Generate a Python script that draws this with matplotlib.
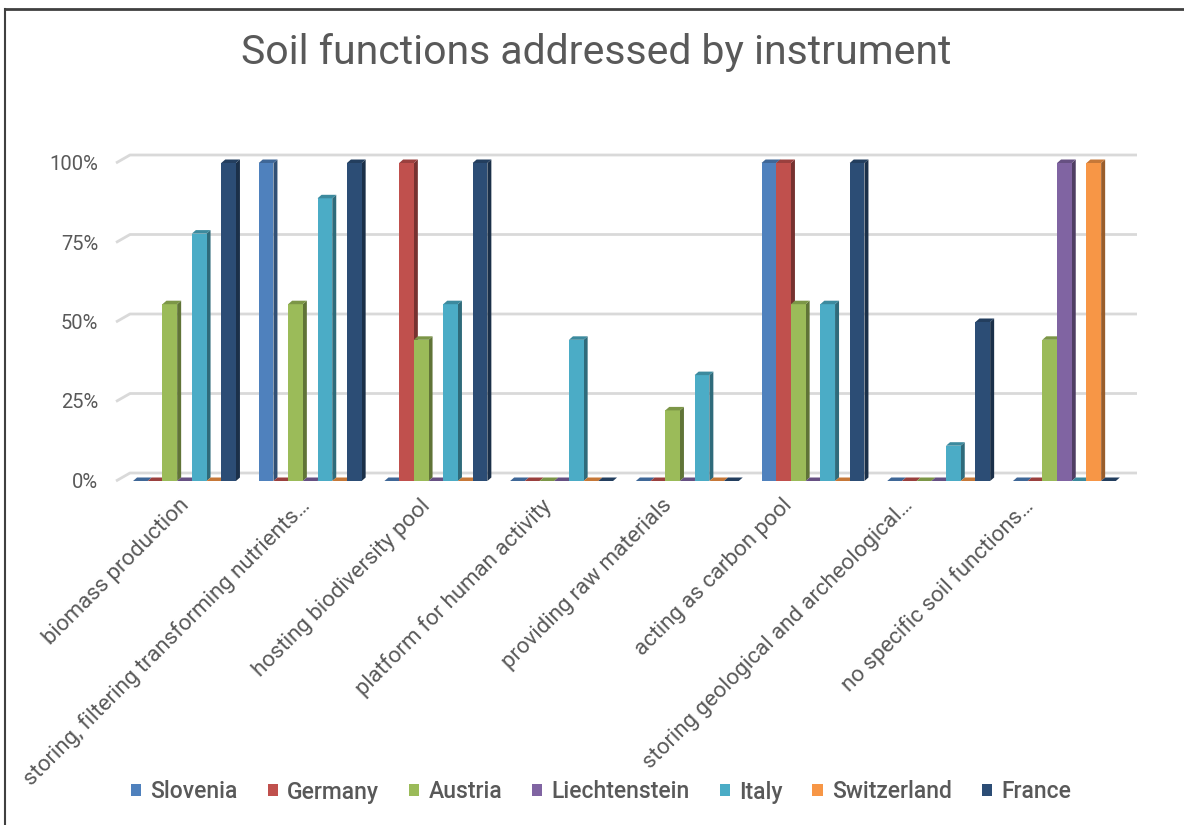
import numpy as np
import matplotlib
matplotlib.use("Agg")
import matplotlib.pyplot as plt
from matplotlib.patches import Polygon, Patch, Rectangle
import matplotlib.colors as mcolors

# ── data ─────────────────────────────────────
functions = [
    "biomass production",
    "storing, filtering transforming nutrients\u2026",
    "hosting biodiversity pool",
    "platform for human activity",
    "providing raw materials",
    "acting as carbon pool",
    "storing geological and archeological\u2026",
    "no specific soil functions\u2026",
]
countries = ["Slovenia", "Germany", "Austria", "Liechtenstein", "Italy", "Switzerland", "France"]

slovenia      = [0.0, 1.0, 0.0, 0.0, 0.0, 1.0, 0.0, 0.0]
germany       = [0.0, 0.0, 1.0, 0.0, 0.0, 1.0, 0.0, 0.0]
austria       = [0.556, 0.556, 0.444, 0.0, 0.222, 0.556, 0.0, 0.444]
liechtenstein = [0.0, 0.0, 0.0, 0.0, 0.0, 0.0, 0.0, 1.0]
italy         = [0.778, 0.889, 0.556, 0.444, 0.333, 0.556, 0.111, 0.0]
switzerland   = [0.0, 0.0, 0.0, 0.0, 0.0, 0.0, 0.0, 1.0]
france        = [1.0, 1.0, 1.0, 0.0, 0.0, 1.0, 0.5, 0.0]

yticks = [0.0, 0.25, 0.5, 0.75, 1.0]
ytick_labels = ["0%", "25%", "50%", "75%", "100%"]

colors = ["#4F81BD", "#C0504D", "#9BBB59", "#8064A2", "#4BACC6", "#F79646", "#2C4D75"]
series = [slovenia, germany, austria, liechtenstein, italy, switzerland, france]

TEXT = "#595959"
plt.rcParams["font.family"] = ["Roboto", "DejaVu Sans"]

# ── figure / axes in pixel terms ─────────────
W, H = 1184, 825
fig = plt.figure(figsize=(W / 100, H / 100), dpi=100)

ax_l, ax_r = 116, 1137      # px from left
ax_b, ax_t = 481, 150       # px from top
px_unit_y = 318.0           # px per 100%
px_unit_x = 125.7           # px per category
x0_px = 184.5               # px of first category centre

ax = fig.add_axes([ax_l / W, (H - ax_b) / H, (ax_r - ax_l) / W, (ax_b - ax_t) / H])
ax.set_xlim((ax_l - x0_px) / px_unit_x, (ax_r - x0_px) / px_unit_x)
ax.set_ylim(0, (ax_b - ax_t) / px_unit_y)
ax.axis("off")


def shade(c, f):
    r, g, b = mcolors.to_rgb(c)
    return (r * f, g * f, b * f)


# back-wall gridlines with the little side-wall slant
gx = 14 / px_unit_x
gy = 8 / px_unit_y
xl = ax.get_xlim()
for v in yticks:
    ax.plot([xl[0], xl[0] + gx, xl[1]], [v, v + gy, v + gy],
            color="#d9d9d9", lw=2, clip_on=False, zorder=1, solid_capstyle="butt")

# 3d-ish columns: front face, darker right side, top face
bw = 14.7 / px_unit_x
dx = 4 / px_unit_x
dy = 3.5 / px_unit_y
for i in range(len(functions)):
    for j, (vals, c) in enumerate(zip(series, colors)):
        h = vals[i]
        x = i + (j - 3.5) * bw
        z = 2 + i * 10 + j
        if h > 0:
            ax.add_patch(Polygon([(x + bw, 0), (x + bw + dx, dy), (x + bw + dx, h + dy), (x + bw, h)],
                                 closed=True, fc=shade(c, 0.62), ec="none", zorder=z, clip_on=False))
            ax.add_patch(Rectangle((x, 0), bw, h, fc=c, ec="none", zorder=z, clip_on=False))
        ax.add_patch(Polygon([(x, h), (x + dx, h + dy), (x + bw + dx, h + dy), (x + bw, h)],
                             closed=True, fc=shade(c, 0.8), ec="none", zorder=z, clip_on=False))

# y tick labels
for v, lab in zip(yticks, ytick_labels):
    ax.text((98 - ax_l) / px_unit_x + ax.get_xlim()[0], v - 1.5 / px_unit_y, lab,
            ha="right", va="center", fontsize=14.5, color=TEXT, clip_on=False)

# rotated category labels
for i, lab in enumerate(functions):
    xp = 179 + 120.5 * i
    ax.text((xp - x0_px) / px_unit_x, -14 / px_unit_y, lab, rotation=45,
            rotation_mode="anchor", ha="right", va="top",
            fontsize=16, color=TEXT, clip_on=False)

fig.text(0.5 + 4 / W, 1 - 53 / H, "Soil functions addressed by instrument",
         ha="center", va="center", fontsize=29.5, color=TEXT)

handles = [Patch(facecolor=c, edgecolor="none", label=n) for c, n in zip(colors, countries)]
fig.legend(handles=handles, loc="center", bbox_to_anchor=(0.5 + 9 / W, 1 - 792 / H), ncol=7,
           frameon=False, prop={"size": 16.5, "weight": "medium"},
           handlelength=0.45, handleheight=0.45,
           handletextpad=0.4, columnspacing=1.3, labelcolor=TEXT)

# outer chart border (dark top/left edge as in the screenshot)
fig.add_artist(plt.Line2D([5 / W, 5 / W], [0, 1 - 9 / H], color="#404040", lw=1.5))
fig.add_artist(plt.Line2D([5 / W, 1], [1 - 9 / H, 1 - 9 / H], color="#404040", lw=2))

fig.savefig("out.png", dpi=100, facecolor="white")
